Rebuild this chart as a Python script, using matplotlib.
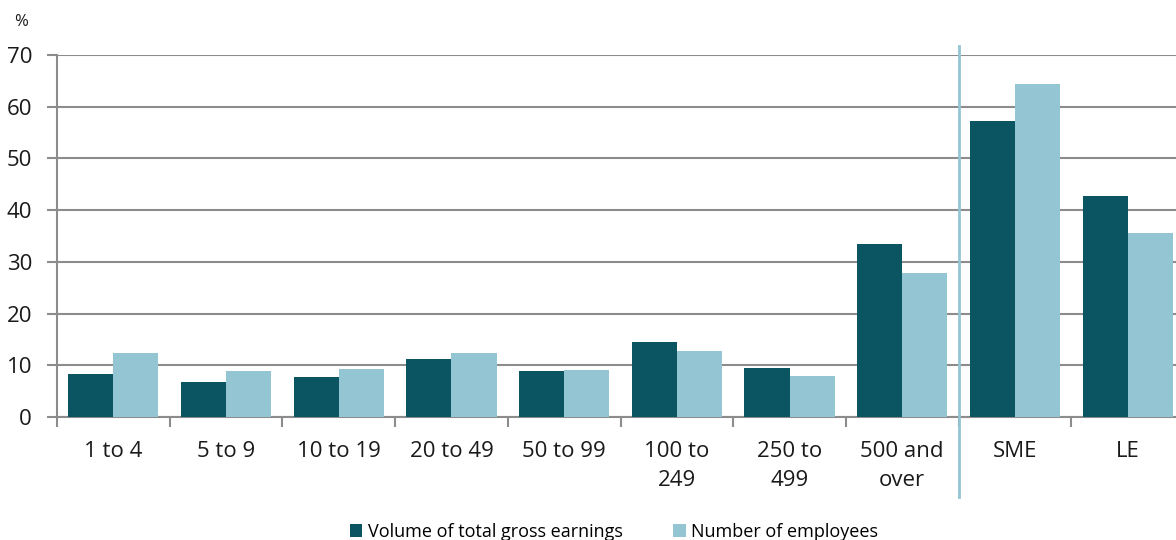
import matplotlib.pyplot as plt
import numpy as np

plt.rcParams['font.family'] = ['Open Sans', 'DejaVu Sans']

categories = ['1 to 4', '5 to 9', '10 to 19', '20 to 49', '50 to 99',
              '100 to\n249', '250 to\n499', '500 and\nover', 'SME', 'LE']
earnings = [8.3, 6.8, 7.7, 11.2, 8.9, 14.5, 9.5, 33.4, 57.3, 42.7]
employees = [12.4, 8.9, 9.2, 12.4, 9.0, 12.8, 7.9, 27.8, 64.4, 35.6]

dark = '#0b5563'
light = '#93c5d2'
grid = '#8c8c8c'

fig = plt.figure(figsize=(11.76, 5.4), dpi=100)
ax = fig.add_axes([57 / 1176, 1 - 417 / 540, 1127 / 1176, 362 / 540])

x = np.arange(len(categories))
w = 0.4
ax.bar(x - w / 2, earnings, w, color=dark, label='Volume of total gross earnings', zorder=3)
ax.bar(x + w / 2, employees, w, color=light, label='Number of employees', zorder=3)

ax.set_xlim(-0.5, len(categories) - 0.5)
ax.set_ylim(0, 70)
ax.set_yticks(range(0, 71, 10))
ax.yaxis.grid(True, color=grid, linewidth=1.5, zorder=0)
ax.set_axisbelow(True)

for s in ['top', 'right']:
    ax.spines[s].set_visible(False)
ax.spines['left'].set_color(grid)
ax.spines['left'].set_linewidth(1.5)
ax.spines['bottom'].set_color(grid)
ax.spines['bottom'].set_linewidth(1.5)

ax.set_xticks(x)
ax.set_xticklabels(categories, fontsize=16, color='#1a1a1a', linespacing=1.55, va='top')
ax.set_xticks(np.arange(-0.5, len(categories), 1), minor=True)
ax.tick_params(axis='x', which='major', length=0, pad=17)
ax.tick_params(axis='x', which='minor', length=7, width=1.5, color=grid)
ax.tick_params(axis='y', length=7, width=1.5, color=grid, labelsize=16,
               labelcolor='#1a1a1a', pad=11)

ax.axvline(7.5, ymin=-0.221, ymax=1.025, color=light, linewidth=2, clip_on=False, zorder=4)

fig.text(21 / 1176, 1 - 22 / 540, '%', fontsize=12, color='#1a1a1a', ha='center', va='center')

ax.legend(loc='center', bbox_to_anchor=(614 / 1176, 8 / 540), bbox_transform=fig.transFigure,
          ncol=2, frameon=False, fontsize=13, handlelength=0.7, handleheight=0.7,
          handletextpad=0.3, columnspacing=2.8)

fig.savefig('out.png', dpi=100)
